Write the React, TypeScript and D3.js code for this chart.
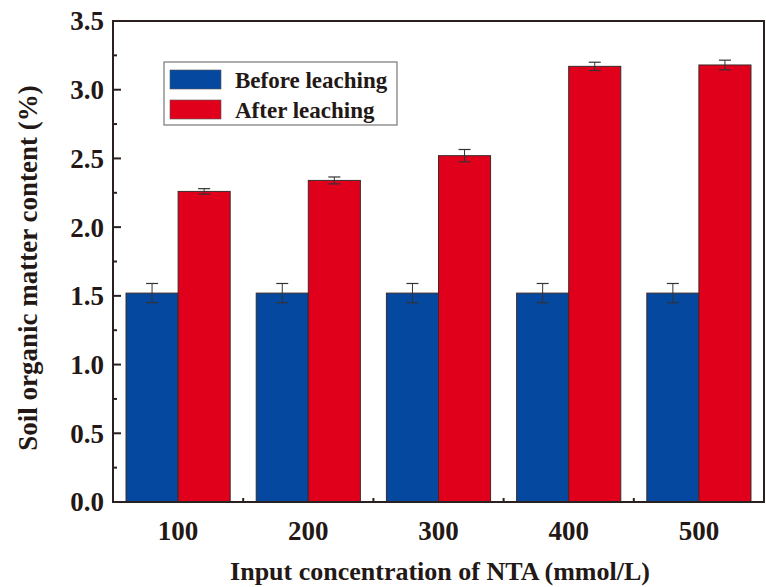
import React from "react";
import * as d3 from "d3";

const categories = [100, 200, 300, 400, 500];
const beforeValues = [1.52, 1.52, 1.52, 1.52, 1.52];
const beforeErrors = [0.07, 0.07, 0.07, 0.07, 0.07];
const afterValues = [2.26, 2.34, 2.52, 3.17, 3.18];
const afterErrors = [0.02, 0.025, 0.045, 0.03, 0.035];
const yTicks = [0, 0.5, 1.0, 1.5, 2.0, 2.5, 3.0, 3.5];
const yMinorTicks = [0.25, 0.75, 1.25, 1.75, 2.25, 2.75, 3.25];
const xMinorTicks = [150, 250, 350, 450];
const seriesNames = ["Before leaching", "After leaching"];

const W = 766, H = 587;
const left = 113, right = 764, top = 21, bottom = 502;
const BLUE = "#0548a0";
const RED = "#e1001c";
const FONT = "'Liberation Serif', 'Times New Roman', serif";

export default function App() {
  const x = d3.scaleLinear().domain([50, 550]).range([left, right]);
  const y = d3.scaleLinear().domain([0, 3.5]).range([bottom, top]);
  const bw = x(40) - x(0);

  const series = [
    { vals: beforeValues, errs: beforeErrors, color: BLUE, off: -bw },
    { vals: afterValues, errs: afterErrors, color: RED, off: 0 },
  ];

  return (
    <svg width={W} height={H} style={{ position: "absolute", left: 0, top: 0, background: "#fff" }}>
      {series.map((s, si) =>
        categories.map((c, i) => {
          const x0 = x(c) + s.off;
          const v = s.vals[i];
          const e = s.errs[i];
          const cx = x0 + bw / 2;
          return (
            <g key={`${si}-${i}`}>
              <rect x={x0} y={y(v)} width={bw} height={y(0) - y(v)} fill={s.color} stroke="#3a2a2a" strokeWidth={1} />
              <line x1={cx} x2={cx} y1={y(v + e)} y2={y(v - e)} stroke="#333" strokeWidth={1} />
              <line x1={cx - 6} x2={cx + 6} y1={y(v + e)} y2={y(v + e)} stroke="#333" strokeWidth={1.2} />
              <line x1={cx - 6} x2={cx + 6} y1={y(v - e)} y2={y(v - e)} stroke="#333" strokeWidth={1.2} />
            </g>
          );
        })
      )}
      <rect x={left} y={top} width={right - left} height={bottom - top} fill="none" stroke="#2a2020" strokeWidth={2} />
      {yTicks.map((t) => (
        <g key={`yt${t}`}>
          <line x1={left} x2={left + 8} y1={y(t)} y2={y(t)} stroke="#2a2020" strokeWidth={2} />
          <text x={left - 9} y={y(t)} dy="0.35em" textAnchor="end" fontFamily={FONT} fontWeight="bold" fontSize={27} fill="#231815">
            {t.toFixed(1)}
          </text>
        </g>
      ))}
      {yMinorTicks.map((t) => (
        <line key={`ym${t}`} x1={left} x2={left + 4} y1={y(t)} y2={y(t)} stroke="#2a2020" strokeWidth={2} />
      ))}
      {xMinorTicks.map((t) => (
        <line key={`xm${t}`} x1={x(t)} x2={x(t)} y1={bottom} y2={bottom - 4} stroke="#2a2020" strokeWidth={2} />
      ))}
      {categories.map((c) => (
        <text key={`xl${c}`} x={x(c)} y={540} textAnchor="middle" fontFamily={FONT} fontWeight="bold" fontSize={27} fill="#231815">
          {c}
        </text>
      ))}
      <text x={440} y={580} textAnchor="middle" fontFamily={FONT} fontWeight="bold" fontSize={26} fill="#231815">
        Input concentration of NTA (mmol/L)
      </text>
      <text transform={`translate(37, 268) rotate(-90)`} textAnchor="middle" fontFamily={FONT} fontWeight="bold" fontSize={27} fill="#231815">
        Soil organic matter content (%)
      </text>
      <g>
        <rect x={164} y={62} width={233} height={63} fill="#fff" stroke="#777" strokeWidth={1.2} />
        {seriesNames.map((n, i) => (
          <g key={n}>
            <rect x={170} y={70 + i * 30} width={51} height={19} fill={i === 0 ? BLUE : RED} stroke="#555" strokeWidth={0.6} />
            <text x={235} y={80 + i * 30} dy="0.35em" fontFamily={FONT} fontWeight="bold" fontSize={23} fill="#231815">
              {n}
            </text>
          </g>
        ))}
      </g>
    </svg>
  );
}
